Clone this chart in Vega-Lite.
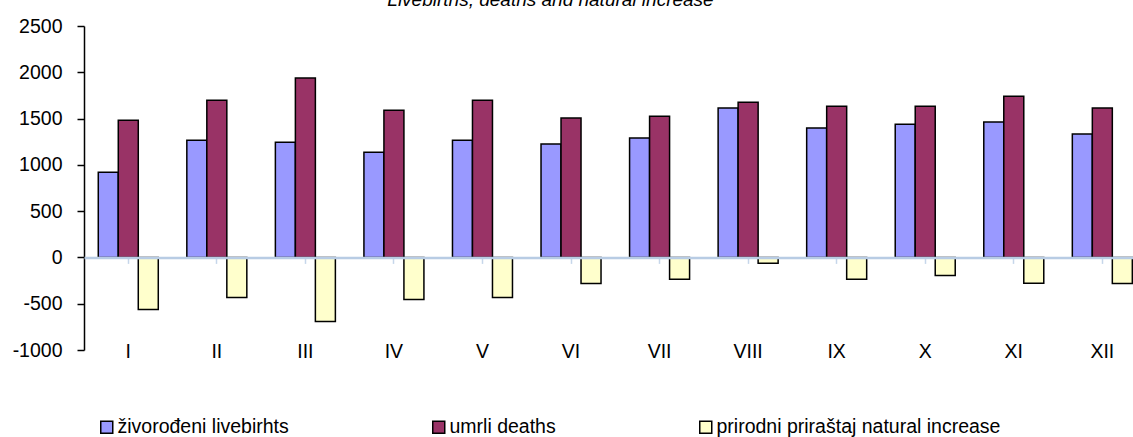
{
  "$schema": "https://vega.github.io/schema/vega-lite/v6.json",
  "autosize": "none",
  "padding": {"left": 84, "top": 26, "right": 0, "bottom": 87},
  "width": 1049,
  "height": 324,
  "background": "white",
  "title": {
    "text": "Livebirths,  deaths  and natural increase",
    "font": "Liberation Sans",
    "fontSize": 19,
    "fontStyle": "italic",
    "fontWeight": "normal",
    "color": "black",
    "anchor": "middle",
    "frame": "group",
    "baseline": "alphabetic",
    "offset": 0,
    "dx": -58,
    "dy": 9
  },
  "config": {
    "view": {"stroke": null},
    "font": "Liberation Sans"
  },
  "data": {
    "values": [
      {"month": "I", "series": "živorođeni livebirhts", "value": 921},
      {"month": "I", "series": "umrli deaths", "value": 1483},
      {"month": "I", "series": "prirodni priraštaj natural increase", "value": -562},
      {"month": "II", "series": "živorođeni livebirhts", "value": 1267},
      {"month": "II", "series": "umrli deaths", "value": 1699},
      {"month": "II", "series": "prirodni priraštaj natural increase", "value": -432},
      {"month": "III", "series": "živorođeni livebirhts", "value": 1245},
      {"month": "III", "series": "umrli deaths", "value": 1937},
      {"month": "III", "series": "prirodni priraštaj natural increase", "value": -692},
      {"month": "IV", "series": "živorođeni livebirhts", "value": 1137},
      {"month": "IV", "series": "umrli deaths", "value": 1591},
      {"month": "IV", "series": "prirodni priraštaj natural increase", "value": -454},
      {"month": "V", "series": "živorođeni livebirhts", "value": 1267},
      {"month": "V", "series": "umrli deaths", "value": 1699},
      {"month": "V", "series": "prirodni priraštaj natural increase", "value": -432},
      {"month": "VI", "series": "živorođeni livebirhts", "value": 1224},
      {"month": "VI", "series": "umrli deaths", "value": 1505},
      {"month": "VI", "series": "prirodni priraštaj natural increase", "value": -281},
      {"month": "VII", "series": "živorođeni livebirhts", "value": 1289},
      {"month": "VII", "series": "umrli deaths", "value": 1526},
      {"month": "VII", "series": "prirodni priraštaj natural increase", "value": -237},
      {"month": "VIII", "series": "živorođeni livebirhts", "value": 1613},
      {"month": "VIII", "series": "umrli deaths", "value": 1677},
      {"month": "VIII", "series": "prirodni priraštaj natural increase", "value": -64},
      {"month": "IX", "series": "živorođeni livebirhts", "value": 1397},
      {"month": "IX", "series": "umrli deaths", "value": 1634},
      {"month": "IX", "series": "prirodni priraštaj natural increase", "value": -237},
      {"month": "X", "series": "živorođeni livebirhts", "value": 1440},
      {"month": "X", "series": "umrli deaths", "value": 1634},
      {"month": "X", "series": "prirodni priraštaj natural increase", "value": -194},
      {"month": "XI", "series": "živorođeni livebirhts", "value": 1462},
      {"month": "XI", "series": "umrli deaths", "value": 1742},
      {"month": "XI", "series": "prirodni priraštaj natural increase", "value": -280},
      {"month": "XII", "series": "živorođeni livebirhts", "value": 1332},
      {"month": "XII", "series": "umrli deaths", "value": 1613},
      {"month": "XII", "series": "prirodni priraštaj natural increase", "value": -281}
    ]
  },
  "mark": {"type": "bar", "stroke": "black", "strokeWidth": 1.5},
  "encoding": {
    "x": {
      "field": "month",
      "type": "nominal",
      "sort": ["I", "II", "III", "IV", "V", "VI", "VII", "VIII", "IX", "X", "XI", "XII"],
      "scale": {"type": "band", "range": [0, 1062.6], "paddingInner": 0.3224, "paddingOuter": 0.1612},
      "axis": {
        "title": null,
        "orient": "bottom",
        "offset": -92.6,
        "zindex": 1,
        "domain": true,
        "domainColor": "#b8cce4",
        "domainWidth": 2.5,
        "ticks": true,
        "tickColor": "#c6d6ea",
        "tickWidth": 1.5,
        "tickSize": 6,
        "labelPadding": 79,
        "labelAngle": 0,
        "labelFontSize": 19.5,
        "labelColor": "black",
        "labelFont": "Liberation Sans",
        "labelOverlap": false
      }
    },
    "xOffset": {
      "field": "series",
      "type": "nominal",
      "sort": ["živorođeni livebirhts", "umrli deaths", "prirodni priraštaj natural increase"],
      "scale": {"paddingInner": 0, "paddingOuter": 0}
    },
    "y": {
      "field": "value",
      "type": "quantitative",
      "scale": {"domain": [-1000, 2500], "nice": false, "zero": false},
      "axis": {
        "title": null,
        "values": [-1000, -500, 0, 500, 1000, 1500, 2000, 2500],
        "labelExpr": "'' + datum.value",
        "grid": false,
        "domainColor": "black",
        "domainWidth": 1.5,
        "tickColor": "black",
        "tickWidth": 1.5,
        "tickSize": 7,
        "labelPadding": 15,
        "labelFontSize": 19.5,
        "labelColor": "black",
        "labelFont": "Liberation Sans"
      }
    },
    "color": {
      "field": "series",
      "type": "nominal",
      "scale": {
        "domain": ["živorođeni livebirhts", "umrli deaths", "prirodni priraštaj natural increase"],
        "range": ["#9999ff", "#993366", "#ffffcc"]
      },
      "legend": {
        "title": null,
        "orient": "none",
        "direction": "horizontal",
        "legendX": 13,
        "legendY": 391,
        "padding": 0,
        "symbolType": "square",
        "symbolSize": 144,
        "symbolStrokeColor": "black",
        "symbolStrokeWidth": 1.5,
        "symbolOpacity": 1,
        "labelFontSize": 19.5,
        "labelFont": "Liberation Sans",
        "labelColor": "black",
        "labelOffset": 1,
        "labelLimit": 400,
        "columnPadding": 140
      }
    }
  }
}
